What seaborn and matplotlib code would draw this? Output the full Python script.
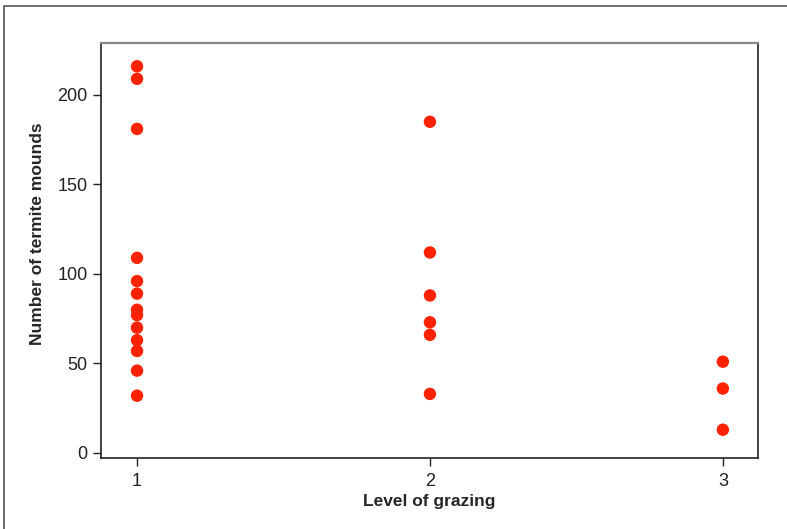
import matplotlib
matplotlib.use("Agg")
import matplotlib.pyplot as plt
import seaborn as sns
import pandas as pd
from matplotlib.patches import Rectangle

# grazing level and termite mound counts
level_1 = [216, 209, 181, 109, 96, 89, 80, 77, 70, 63, 57, 46, 32]
level_2 = [185, 112, 88, 73, 66, 33]
level_3 = [51, 36, 13]

grazing = [1] * len(level_1) + [2] * len(level_2) + [3] * len(level_3)
mounds = level_1 + level_2 + level_3
df = pd.DataFrame({"grazing": grazing, "mounds": mounds})

x_ticks = [1, 2, 3]
y_ticks = [0, 50, 100, 150, 200]

sns.set_theme(style="ticks")
plt.rcParams["font.family"] = ["Liberation Sans", "DejaVu Sans"]

fig = plt.figure(figsize=(7.87, 5.29), dpi=100)
ax = fig.add_axes([101 / 787, 1 - 458 / 529, 657 / 787, 415 / 529])

# outer frame of the figure
fig.patches.append(Rectangle((4 / 787, -0.05), 1.1, 1 - 6 / 529 + 0.05,
                             transform=fig.transFigure, fill=False,
                             edgecolor="#555555", linewidth=1.2))

sns.scatterplot(data=df, x="grazing", y="mounds", ax=ax, color="#ff2200",
                s=80, edgecolor="none", legend=False)

ax.set_xlim(0.877, 3.12)
ax.set_ylim(-2.8, 229)
ax.set_xticks(x_ticks)
ax.set_yticks(y_ticks)
ax.tick_params(axis="both", direction="out", length=6, width=1, labelsize=13,
               colors="#222222")
ax.tick_params(axis="x", pad=5)

for side in ["left", "right", "bottom"]:
    ax.spines[side].set_visible(True)
    ax.spines[side].set_color("#222222")
    ax.spines[side].set_linewidth(1.2)
ax.spines["top"].set_visible(True)
ax.spines["top"].set_color("#888888")
ax.spines["top"].set_linewidth(1.6)

ax.set_xlabel("Level of grazing", fontsize=12.5, fontweight="bold", labelpad=3)
ax.set_ylabel("Number of termite mounds", fontsize=12.5, fontweight="bold")
ax.yaxis.set_label_coords(-0.085, 0.54)

fig.savefig("out.png", dpi=100)
